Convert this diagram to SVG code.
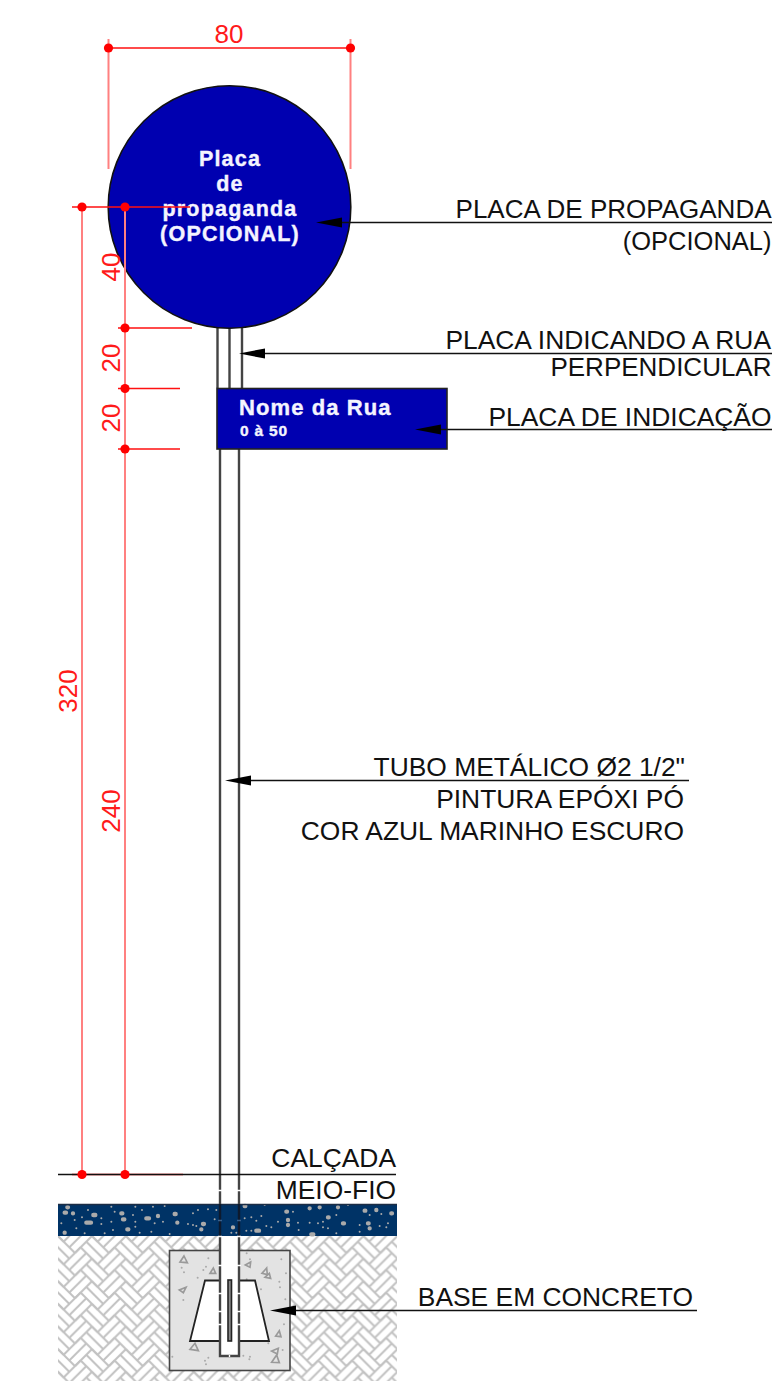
<svg xmlns="http://www.w3.org/2000/svg" width="772" height="1381" viewBox="0 0 772 1381">
<style>
text{font-family:"Liberation Sans",Arial,sans-serif}
.lbl{font-size:26.400px;fill:#111;text-anchor:end}
.dim{font-size:26px;fill:#ff1a1a;text-anchor:middle}
.w{font-weight:bold;fill:#f4f4ff;stroke:#f4f4ff;stroke-width:.4px}
.c{text-anchor:middle;font-size:21.500px;letter-spacing:1.200px}
.ext{stroke:#ff8080;stroke-width:2;fill:none}
.red{stroke:#ff1010;stroke-width:1.600;fill:none}
.blk{stroke:#111;stroke-width:1.300;fill:none}
.post{stroke:#444;stroke-width:2.400;fill:none}
.agg{fill:none;stroke:#9a9a9a;stroke-width:5}
.dots{fill:none;stroke:#aaa;stroke-linecap:round}
</style>
<defs>
<marker id="arr" markerUnits="userSpaceOnUse" markerWidth="27" markerHeight="12" refX="0" refY="6" orient="auto"><path d="M0 1L26 6L0 11Z" fill="#000"/></marker>
<circle id="dot" r="4.600" fill="#ff0000"/>
<g id="hb" transform="rotate(45)" fill="none" stroke="#c2c2c2" stroke-width="2">
<path d="M0 0H24M0 8H24M0 16H24M24 -8V16M32 -8V16M40 -8V16"/>
</g>
<g id="hbcol"><use href="#hb" y="-45.250"/><use href="#hb" y="-22.630"/><use href="#hb"/><use href="#hb" y="22.630"/><use href="#hb" y="45.250"/></g>
<pattern id="weave" width="33.940" height="22.630" patternUnits="userSpaceOnUse" patternTransform="translate(58 1236)">
<rect width="34" height="23" fill="#fff"/>
<use href="#hbcol" x="-67.880"/><use href="#hbcol" x="-33.940"/><use href="#hbcol"/><use href="#hbcol" x="33.940"/>
</pattern>
</defs>

<g id="ground">
<rect x="58" y="1236" width="339" height="145" fill="url(#weave)"/>
</g>
<g id="sidewalk">
<rect x="58" y="1204" width="339" height="32" fill="#003366"/>
<g transform="translate(58 1200) scale(.3333)">
<path class="dots" stroke-width="6" d="M90 30h0M72 52h0M50 60h0M55 85h0M130 55h0M130 72h0M160 20h0M170 35h0M160 65h0M165 90h0M225 45h0M232 20h0M232 65h0M232 80h0M245 98h0M252 30h0M285 20h0M320 18h0M290 70h0M315 65h0M280 95h0M405 40h0M420 30h0M450 28h0M475 30h0M470 58h0M390 72h0M405 75h0M415 78h0M335 102h0M140 100h0M80 100h0M10 70h0"/>
<path class="dots" stroke-width="13" d="M28 22h2M20 38h4M45 40h0M106 45h6M85 68h14M190 40h3M195 58h4M208 88h3M265 55h8M300 48h0M350 42h3M358 68h0M435 72h3M430 88h0M20 98h0"/>
</g>
<g transform="translate(228 1200) scale(.3333)">
<path class="dots" stroke-width="6" d="M70 52h0M100 48h0M50 55h0M85 62h0M115 78h0M130 82h0M150 65h0M210 68h0M212 90h0M245 68h0M270 70h0M285 65h0M285 82h0M300 85h0M325 100h0M395 75h0M395 95h0M455 78h0M475 82h0M460 42h0M425 45h0M480 70h0M195 35h0M110 15h0M55 92h0M70 92h0M10 98h0M25 98h0M325 45h0M360 15h0"/>
<path class="dots" stroke-width="13" d="M175 35h2M180 60h0M180 75h0M85 92h8M300 52h2M345 70h3M420 70h2M425 85h0M410 32h2M445 30h0M490 40h2M15 82h0M250 103h6M245 25h0M50 18h2M275 22h0M330 22h0"/>
</g>
<path d="M58 1204.500H397" stroke="#1c2d45" stroke-width="1.400"/>
</g>
<g id="concrete-base">
<rect x="169.500" y="1250.500" width="120.500" height="120" fill="#e3e3e3" stroke="#444" stroke-width="1.600"/>
<g transform="translate(160 1240) scale(.3333)">
<path class="agg" d="M72 48L82 68L60 66ZM160 84L167 100L150 100ZM272 66L256 75L270 82ZM320 84L306 100L322 104ZM328 100L315 112L332 115ZM78 142L58 150L70 158ZM105 310L90 328L115 332ZM358 272L347 288L363 290ZM355 325L335 333L352 342ZM350 345L335 367L358 368Z"/>
<path class="dots" stroke-width="6" d="M145 55h0M65 83h0M72 97h0M138 80h0M130 90h0M113 113h0M260 40h0M270 58h0M364 58h0M378 100h0M358 125h0M360 142h0M303 148h0M70 180h0M376 178h0M372 253h0M325 310h0M368 330h0M37 350h0M145 353h0M135 362h0M138 373h0M250 347h0M270 350h0M268 358h0M260 118h0"/>
</g>
<path d="M205 1280.500H255L269 1341H190Z" fill="#fff" stroke="#222" stroke-width="1.800"/>
</g>
<g id="post">
<path class="post" d="M217.500 328V388M229.500 328V388M242 328V388"/>
<path class="post" d="M220 449V1174M239 449V1174"/>
<rect x="220" y="1236" width="19" height="120" fill="#fff"/>
<path class="post" d="M220 1174V1204"/><path class="post" d="M239 1174V1204"/>
<path d="M220 1204V1236M239 1204V1236" stroke="#0d1a2e" stroke-width="2.400" fill="none"/>
<path class="post" d="M220 1236V1356H239V1236"/>
<path d="M218 1190.500H222M237 1190.500H241M218 1236.500H222M237 1236.500H241M218 1265.500H222M237 1265.500H241M218 1293.500H222M237 1293.500H241M218 1311.500H222M237 1311.500H241M218 1324.500H222M237 1324.500H241" stroke="#fff" stroke-width="1.400"/>
<path d="M218 1220.500H222M237 1220.500H241" stroke="#3a5f8a" stroke-width="1.400"/>
<path d="M229.500 1355V1357" stroke="#fff" stroke-width="1.400"/>
<rect x="228" y="1280" width="3.500" height="61" fill="#888" stroke="#222" stroke-width="1.600"/>
</g>
<g id="round-sign">
<circle cx="229.500" cy="207" r="121.300" fill="#0000b0" stroke="#111" stroke-width="1.600"/>
<text class="w c" x="230" y="166">Placa</text>
<text class="w c" x="230" y="191">de</text>
<text class="w c" x="230" y="216">propaganda</text>
<text class="w c" x="230" y="241">(OPCIONAL)</text>
</g>
<g id="street-sign">
<rect x="217" y="388.500" width="230" height="60.500" fill="#0000b0" stroke="#222" stroke-width="1.600"/>
<text class="w" x="239" y="415" font-size="22" letter-spacing="1.100">Nome da Rua</text>
<text class="w" x="240" y="436" font-size="15.500" letter-spacing=".8">0 à 50</text>
</g>

<g id="connectors">
<path class="ext" d="M108.500 39V169M350.500 39V169M82 207V1174M125 207V1174"/>
<path class="red" d="M108.500 48H350.500M72 207H190M118 328H192M118 388.500H180M118 449H180M72 1174.500H183"/>
<path class="blk" d="M58 1174.500H396"/>
<path class="blk" d="M772 222.500H342" marker-end="url(#arr)"/>
<path class="blk" d="M772 353.500H265" marker-end="url(#arr)"/>
<path class="blk" d="M772 429.500H441" marker-end="url(#arr)"/>
<path class="blk" d="M689 780.500H251" marker-end="url(#arr)"/>
<path class="blk" d="M697 1310.500H296" marker-end="url(#arr)"/>
<use href="#dot" x="108.500" y="48"/><use href="#dot" x="350.500" y="48"/>
<use href="#dot" x="82" y="207"/><use href="#dot" x="125" y="207"/>
<use href="#dot" x="125" y="328"/><use href="#dot" x="125" y="388.500"/><use href="#dot" x="125" y="449"/>
<use href="#dot" x="82" y="1174.500"/><use href="#dot" x="125" y="1174.500"/>
</g>

<g id="dimensions">
<text class="dim" x="229" y="43">80</text>
<text class="dim" transform="translate(120 267) rotate(-90)">40</text>
<text class="dim" transform="translate(120 358) rotate(-90)">20</text>
<text class="dim" transform="translate(120 418) rotate(-90)">20</text>
<text class="dim" transform="translate(120 811) rotate(-90)">240</text>
<text class="dim" transform="translate(77 691) rotate(-90)">320</text>
</g>
<g id="labels">
<text class="lbl" x="771.500" y="218" style="font-size:26px">PLACA DE PROPAGANDA</text>
<text class="lbl" x="771.500" y="250" style="font-size:25.500px">(OPCIONAL)</text>
<text class="lbl" x="771" y="349">PLACA INDICANDO A RUA</text>
<text class="lbl" x="771.500" y="376" style="font-size:26px">PERPENDICULAR</text>
<text class="lbl" x="771.500" y="426">PLACA DE INDICAÇÃO</text>
<text class="lbl" x="685" y="776">TUBO METÁLICO Ø2 1/2"</text>
<text class="lbl" x="684" y="808">PINTURA EPÓXI PÓ</text>
<text class="lbl" x="684" y="840">COR AZUL MARINHO ESCURO</text>
<text class="lbl" x="396" y="1167">CALÇADA</text>
<text class="lbl" x="396" y="1199">MEIO-FIO</text>
<text class="lbl" x="693" y="1306">BASE EM CONCRETO</text>
</g>
</svg>
